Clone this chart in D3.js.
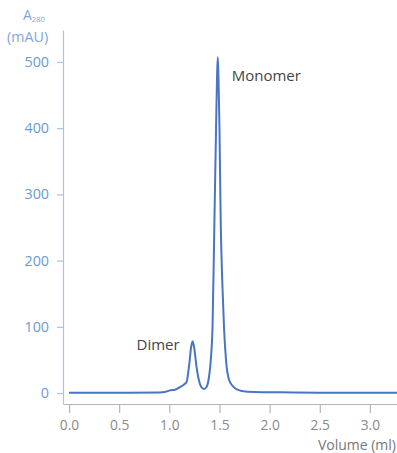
<!DOCTYPE html>
<html><head><meta charset="utf-8">
<script src="https://cdn.jsdelivr.net/npm/d3@7"></script>
<style>body{margin:0;background:#fff;} text{font-family:"Open Sans","DejaVu Sans",sans-serif;}</style>
</head><body>
<script>
const volume = [0.00,0.30,0.60,0.90,0.957,1.007,1.057,1.107,1.147,1.173,1.186,1.200,1.216,1.233,1.251,1.271,1.291,1.316,1.346,1.371,1.391,1.403,1.416,1.431,1.449,1.466,1.476,1.483,1.490,1.500,1.513,1.530,1.545,1.565,1.595,1.635,1.680,1.722,1.85,2.1,2.5,3.0,3.27];
const absorbance = [0.5,0.5,0.5,0.8,1.5,4,5,9,13,17,28,45,68,78,65,40,22,10,6,9,20,33,55,100,254,400,480,507,480,400,254,160,100,50,20,10,5,3,1.5,1,0.5,0.3,0.3];
const xTicks = [0.0,0.5,1.0,1.5,2.0,2.5,3.0];
const yTicks = [0,100,200,300,400,500];
const peakLabels = [{name:"Dimer", v:1.233, a:78}, {name:"Monomer", v:1.483, a:507}];

const W=397,H=453;
const svg=d3.select("body").append("svg").attr("width",W).attr("height",H);
const x=d3.scaleLinear().domain([-0.06,3.27]).range([63,397]);
const y=d3.scaleLinear().domain([-16.6,548.3]).range([404,30]);

// x axis
const gx=svg.append("g").attr("transform","translate(0,404)")
  .call(d3.axisBottom(x).tickValues(xTicks).tickFormat(d3.format(".1f")).tickSize(9).tickSizeOuter(0).tickPadding(7));
gx.select(".domain").attr("stroke","#b4b4b4").attr("stroke-width",1.2);
gx.selectAll(".tick line").attr("stroke","#b4b4b4").attr("stroke-width",1.2);
gx.selectAll(".tick text").attr("fill","#8a8a8a").attr("font-size",13.8);

// y axis
const gy=svg.append("g").attr("transform","translate(63,0)")
  .call(d3.axisLeft(y).tickValues(yTicks).tickSize(6).tickSizeOuter(0).tickPadding(8));
gy.select(".domain").attr("stroke","#a9c4e6").attr("stroke-width",1.2);
gy.selectAll(".tick line").attr("stroke","#a9c4e6").attr("stroke-width",1.2);
gy.selectAll(".tick text").attr("fill","#6e9ad2").attr("font-size",14.3);

// y title
const t=svg.append("text").attr("x",23).attr("y",20).attr("fill","#7ea6d8").attr("font-size",14);
t.append("tspan").text("A");
t.append("tspan").attr("font-size",7.5).attr("dy",2).text("280");
svg.append("text").attr("x",7).attr("y",42).attr("fill","#7ea6d8").attr("font-size",14.3).text("(mAU)");

// x title
svg.append("text").attr("x",396).attr("y",450).attr("text-anchor","end").attr("fill","#777").attr("font-size",14).text("Volume (ml)");

// line
const data=volume.map((v,i)=>({v,a:absorbance[i]}));
svg.append("path").datum(data).attr("fill","none").attr("stroke","#4a74c4").attr("stroke-width",2)
  .attr("stroke-linejoin","round")
  .attr("d",d3.line().x(d=>x(d.v)).y(d=>y(d.a)).curve(d3.curveMonotoneX));

// labels
svg.append("text").attr("x",x(peakLabels[0].v)-13).attr("y",y(peakLabels[0].a)+9).attr("text-anchor","end")
  .attr("fill","#444").attr("font-size",15).text(peakLabels[0].name);
svg.append("text").attr("x",x(peakLabels[1].v)+14).attr("y",y(peakLabels[1].a)+24)
  .attr("fill","#444").attr("font-size",15).text(peakLabels[1].name);
</script>
</body></html>
